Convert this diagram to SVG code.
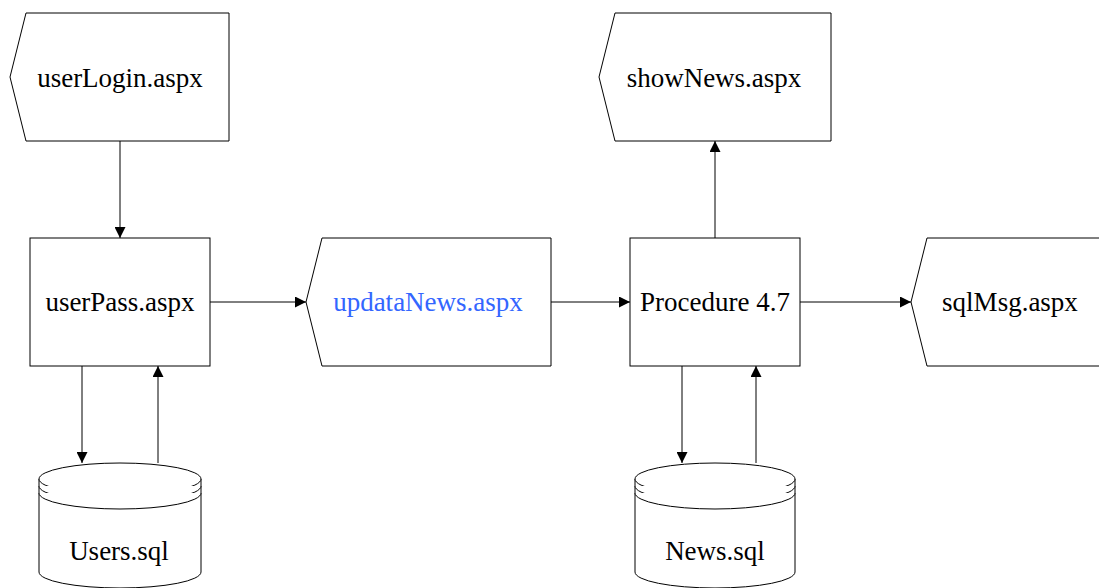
<svg xmlns="http://www.w3.org/2000/svg" width="1099" height="588" viewBox="0 0 1099 588">
<style>
.shape{fill:#fff;stroke:#000;stroke-width:1}
.lbl{font-family:'Liberation Serif','DejaVu Serif',serif;font-size:27px;fill:#000;text-anchor:middle}
.blue{fill:#3366ff}
.edge{fill:none;stroke:#000;stroke-width:1;marker-end:url(#ah)}
</style>
<defs>
<marker id="ah" viewBox="0 0 11 11" refX="11" refY="5.5" markerWidth="11" markerHeight="11" markerUnits="userSpaceOnUse" orient="auto">
<path d="M0,0 L11,5.5 L0,11 Z" fill="#000"/>
</marker>
</defs>
<rect width="1099" height="588" fill="#fff"/>
<g id="connectors">
<line class="edge" x1="120" y1="141" x2="120" y2="238"/>
<line class="edge" x1="210" y1="302" x2="306" y2="302"/>
<line class="edge" x1="551" y1="302" x2="630" y2="302"/>
<line class="edge" x1="800" y1="302" x2="911" y2="302"/>
<line class="edge" x1="715" y1="238" x2="715" y2="141"/>
<line class="edge" x1="82" y1="366" x2="82" y2="463"/>
<line class="edge" x1="158" y1="463" x2="158" y2="366"/>
<line class="edge" x1="682" y1="366" x2="682" y2="463"/>
<line class="edge" x1="756" y1="463" x2="756" y2="366"/>
</g>
<g id="userLogin">
<polygon class="shape" points="26,13 229,13 229,141 26,141 10,77"/>
<text class="lbl" x="120" y="87">userLogin.aspx</text>
</g>
<g id="userPass">
<rect class="shape" x="30" y="238" width="180" height="128"/>
<text class="lbl" x="120" y="311">userPass.aspx</text>
</g>
<g id="updataNews">
<polygon class="shape" points="322,238 551,238 551,366 322,366 306,302"/>
<text class="lbl blue" x="428" y="311">updataNews.aspx</text>
</g>
<g id="procedure">
<rect class="shape" x="630" y="238" width="170" height="128"/>
<text class="lbl" x="715" y="311">Procedure 4.7</text>
</g>
<g id="showNews">
<polygon class="shape" points="615,13 831,13 831,141 615,141 599,77"/>
<text class="lbl" x="714" y="87">showNews.aspx</text>
</g>
<g id="sqlMsg">
<polygon class="shape" points="927,238 1110,238 1110,366 927,366 911,302"/>
<text class="lbl" x="1010" y="311">sqlMsg.aspx</text>
</g>
<g id="usersSql">
<path class="shape" d="M39,479 L39,572 A81,16 0 0 0 201,572 L201,479"/>
<ellipse class="shape" cx="120" cy="479" rx="81" ry="16"/>
<path class="shape" d="M39,486 A81,16 0 0 0 201,486" fill="none"/>
<path class="shape" d="M39,493 A81,16 0 0 0 201,493" fill="none"/>
<text class="lbl" x="119" y="560">Users.sql</text>
</g>
<g id="newsSql">
<path class="shape" d="M635,479 L635,572 A80,16 0 0 0 795,572 L795,479"/>
<ellipse class="shape" cx="715" cy="479" rx="80" ry="16"/>
<path class="shape" d="M635,486 A80,16 0 0 0 795,486" fill="none"/>
<path class="shape" d="M635,493 A80,16 0 0 0 795,493" fill="none"/>
<text class="lbl" x="715" y="560">News.sql</text>
</g>
</svg>
